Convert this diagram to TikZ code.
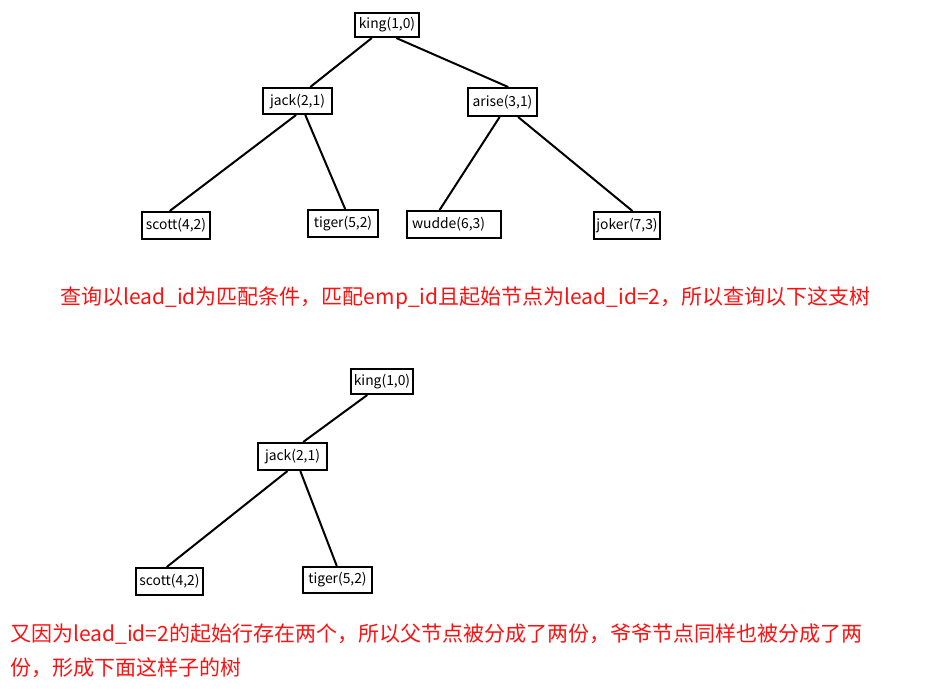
\documentclass[tikz,border=0pt]{standalone}
\usepackage{fontspec}
\setmainfont{Noto Sans CJK SC}
\usetikzlibrary{calc}
\definecolor{notered}{RGB}{255,16,16}
\tikzset{
  treebox/.style={draw=black, line width=1.5pt, rectangle, inner sep=0pt,
    font=\fontsize{10.4pt}{12pt}\selectfont},
  edge/.style={line width=1.5pt, black},
  note/.style={text=notered, inner sep=0pt, anchor=west,
    font=\fontsize{15.75pt}{18pt}\selectfont}
}
\begin{document}
\begin{tikzpicture}[x=0.75pt,y=-0.75pt]
\useasboundingbox (0,0) rectangle (940,694);
% top tree
\node[treebox, minimum width=64*0.75pt, minimum height=24*0.75pt] (king1) at (387,25) {king(1,0)};
\node[treebox, minimum width=69*0.75pt, minimum height=26*0.75pt] (jack1) at (297.5,101) {jack(2,1)};
\node[treebox, minimum width=69*0.75pt, minimum height=28*0.75pt] (arise1) at (502.5,102) {\raisebox{-2pt}{arise(3,1)}};
\node[treebox, minimum width=68*0.75pt, minimum height=27*0.75pt] (scott1) at (176,225.5) {scott(4,2)};
\node[treebox, minimum width=70*0.75pt, minimum height=27*0.75pt] (tiger1) at (343,223.5) {tiger(5,2)};
\node[treebox, minimum width=94*0.75pt, minimum height=27*0.75pt, text width=84*0.75pt, align=left] (wudde1) at (454,224.5) {wudde(6,3)};
\node[treebox, minimum width=66*0.75pt, minimum height=27*0.75pt] (joker1) at (627,225.5) {joker(7,3)};
\draw[edge] ($(king1.south west)!0.27!(king1.south east)$) -- ($(jack1.north west)!0.68!(jack1.north east)$);
\draw[edge] ($(king1.south west)!0.64!(king1.south east)$) -- ($(arise1.north west)!0.58!(arise1.north east)$);
\draw[edge] ($(jack1.south west)!0.48!(jack1.south east)$) -- ($(scott1.north west)!0.41!(scott1.north east)$);
\draw[edge] ($(jack1.south west)!0.61!(jack1.south east)$) -- ($(tiger1.north west)!0.53!(tiger1.north east)$);
\draw[edge] ($(arise1.south west)!0.46!(arise1.south east)$) -- ($(wudde1.north west)!0.35!(wudde1.north east)$);
\draw[edge] ($(arise1.south west)!0.72!(arise1.south east)$) -- ($(joker1.north west)!0.58!(joker1.north east)$);
% first note
\node[note] (note1) at (60,298) {查询以lead\_id为匹配条件，匹配emp\_id且起始节点为lead\_id=2，所以查询以下这支树};
% bottom tree
\node[treebox, minimum width=62*0.75pt, minimum height=25*0.75pt] (king2) at (382,381.5) {king(1,0)};
\node[treebox, minimum width=69*0.75pt, minimum height=27*0.75pt] (jack2) at (292.5,456.5) {jack(2,1)};
\node[treebox, minimum width=67*0.75pt, minimum height=27*0.75pt] (scott2) at (169.5,581.5) {scott(4,2)};
\node[treebox, minimum width=69*0.75pt, minimum height=26*0.75pt] (tiger2) at (337.5,580) {tiger(5,2)};
\draw[edge] ($(king2.south west)!0.27!(king2.south east)$) -- ($(jack2.north west)!0.65!(jack2.north east)$);
\draw[edge] ($(jack2.south west)!0.43!(jack2.south east)$) -- ($(scott2.north west)!0.46!(scott2.north east)$);
\draw[edge] ($(jack2.south west)!0.61!(jack2.south east)$) -- ($(tiger2.north west)!0.49!(tiger2.north east)$);
% second note
\node[note] (note2) at (10,634) {又因为lead\_id=2的起始行存在两个，所以父节点被分成了两份，爷爷节点同样也被分成了两};
\node[note] (note3) at (10,668) {份，形成下面这样子的树};
\end{tikzpicture}
\end{document}
